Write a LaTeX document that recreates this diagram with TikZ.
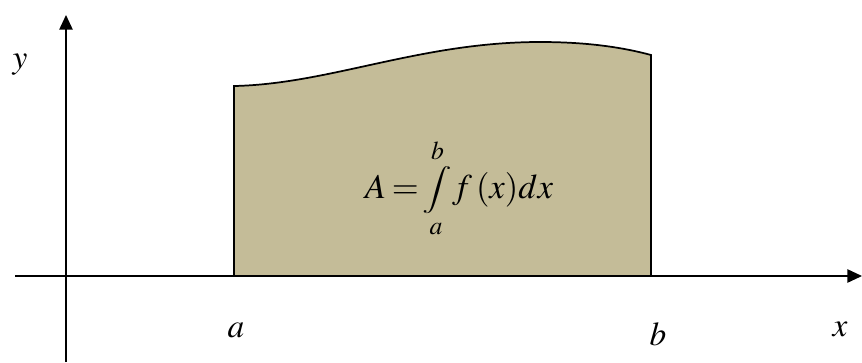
\documentclass[tikz,border=0pt]{standalone}
\usepackage{mathptmx}
\usepackage{graphicx}
\usetikzlibrary{arrows.meta}
\definecolor{areafill}{RGB}{196,188,152}
\newcommand{\myint}{\mathop{\vcenter{\hbox{\scalebox{0.95}[0.68]{$\displaystyle\int$}}}}\limits}
\begin{document}
\begin{tikzpicture}[x=0.75pt,y=-0.75pt,
  axis/.style={line width=1.2pt,-{Triangle[length=11pt,width=10pt]}},
  lbl/.style={font=\fontsize{25}{28}\selectfont, inner sep=0pt},
  eq/.style={font=\fontsize{26}{30}\selectfont, inner sep=0pt}]
\useasboundingbox (0,0) rectangle (862,362);
\coordinate (p0) at (234,276);
\coordinate (p1) at (234,86);
\coordinate (p2) at (540,42);
\coordinate (p3) at (651,55);
\coordinate (p4) at (651,276);
\filldraw[fill=areafill, draw=black, line width=1.3pt]
  (p0) -- (p1) .. controls (330,84) and (420,42) .. (p2)
  .. controls (590,42) and (625,48) .. (p3) -- (p4) -- cycle;
\coordinate (xs) at (15,276);
\coordinate (xe) at (862,276);
\coordinate (ys) at (66,362);
\coordinate (ye) at (66,15);
\draw[axis] (xs) -- (xe);
\draw[axis] (ys) -- (ye);
\node[lbl] (ylab) at (20,65) {$y$};
\node[lbl] (xlab) at (840,329) {$x$};
\node[lbl] (alab) at (236,330) {$a$};
\node[lbl] (blab) at (658,334) {$b$};
\node[eq] (formula) at (459,188) {$A\mskip-1mu=\mskip-2mu\myint_{\!a}^{b}\mskip-2mu f\,(x)dx$};
\end{tikzpicture}
\end{document}
